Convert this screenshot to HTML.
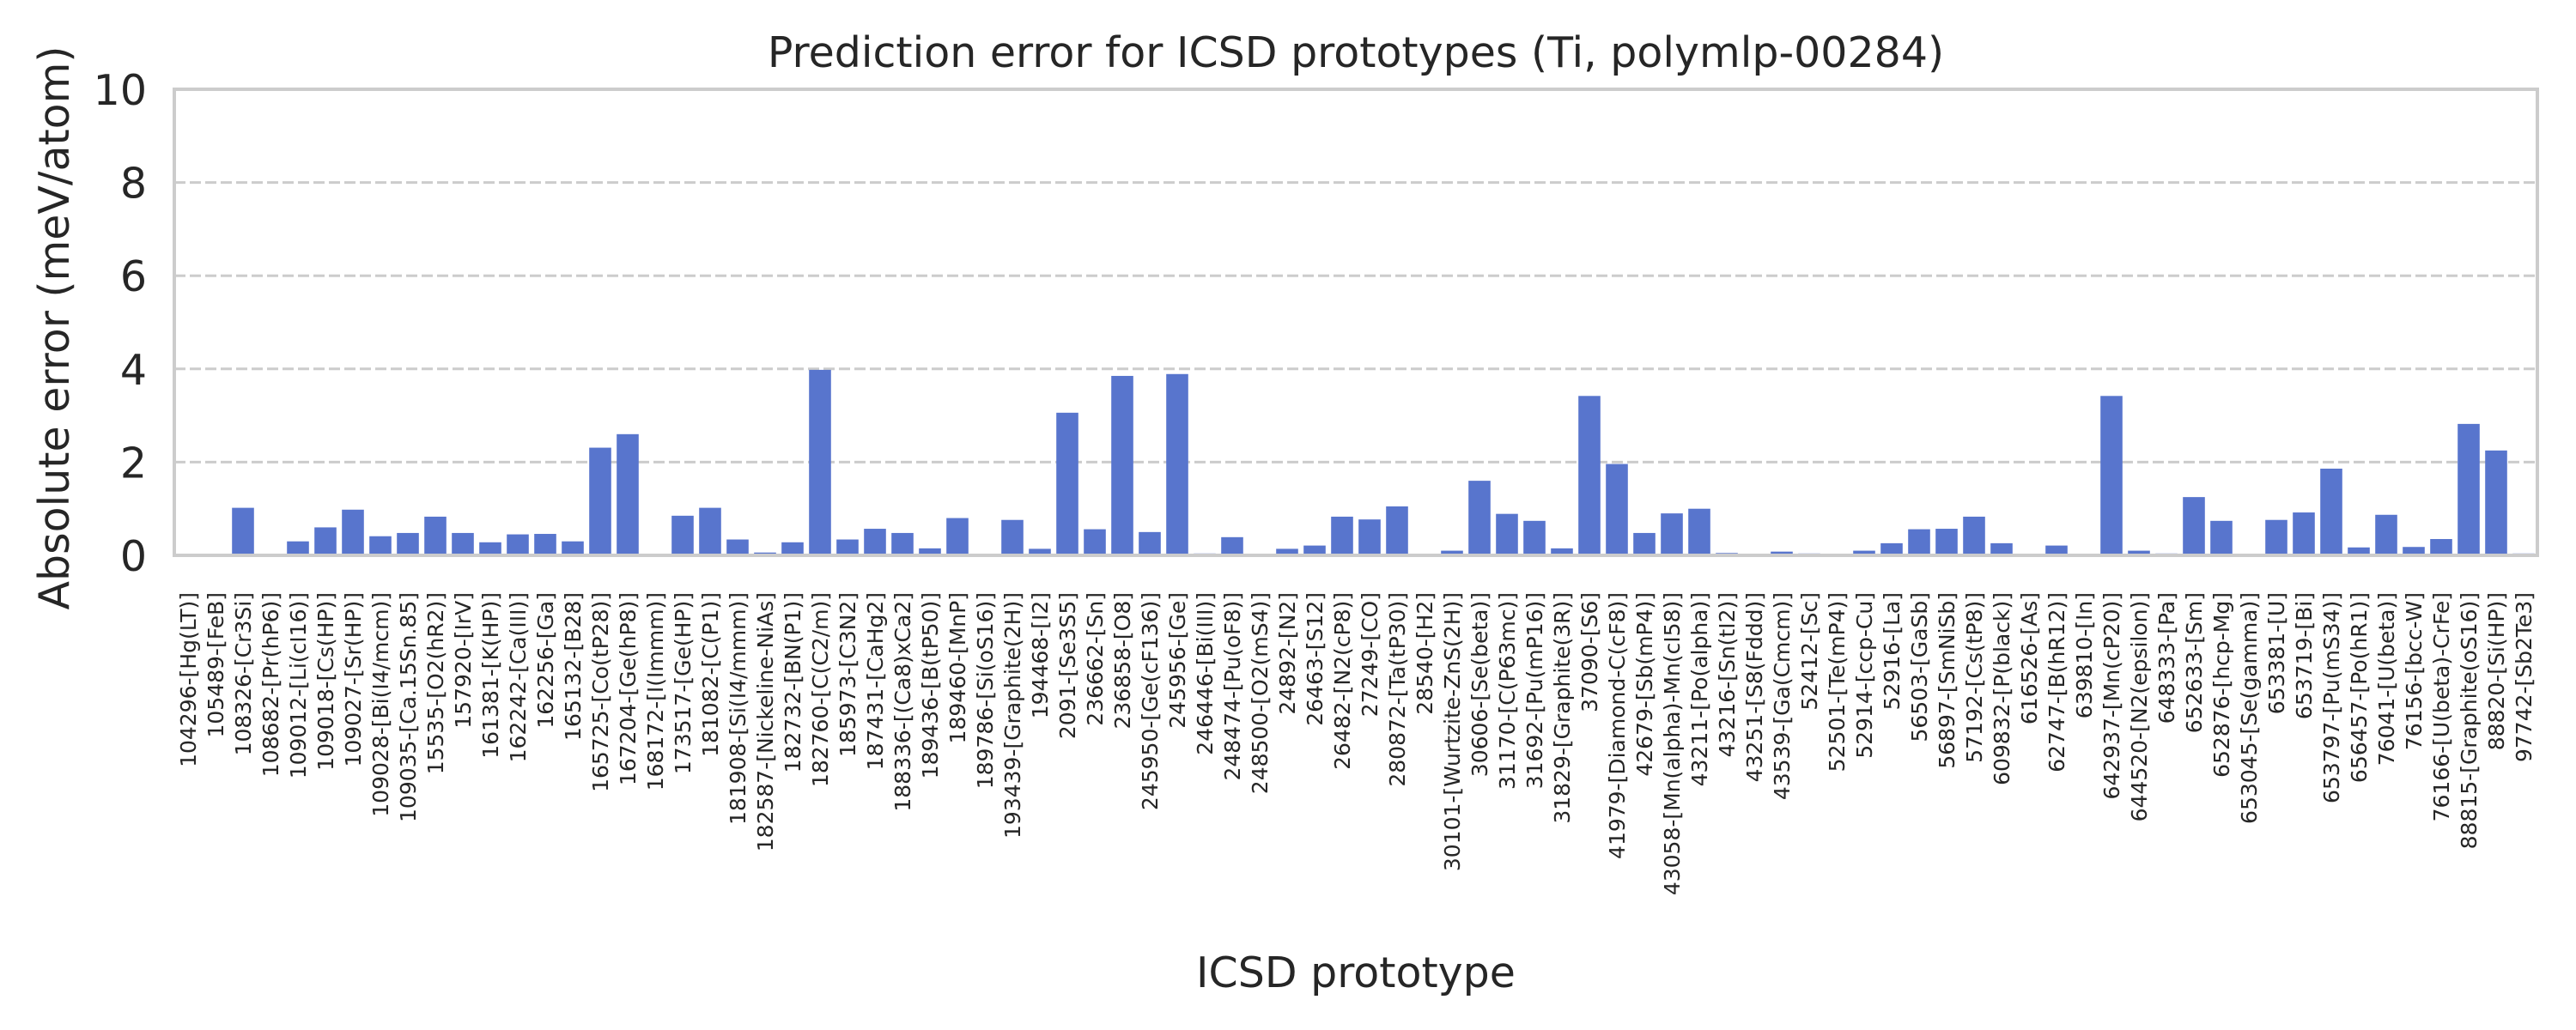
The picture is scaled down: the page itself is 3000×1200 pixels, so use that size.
<!DOCTYPE html>
<html><head><meta charset="utf-8"><style>
html,body{margin:0;padding:0;background:#fff}
svg{display:block;font-family:"DejaVu Sans","Liberation Sans",sans-serif}
</style></head><body>
<svg id="chart" width="3000" height="1200" viewBox="0 0 3000 1200" xmlns="http://www.w3.org/2000/svg">
<rect width="3000" height="1200" fill="#fff"/>
<text x="1579" y="78" font-size="49" text-anchor="middle" fill="#262626">Prediction error for ICSD prototypes (Ti, polymlp-00284)</text>
<g id="grid"></g>
<g id="bars"></g>
<rect x="203" y="104" width="2752" height="543" fill="none" stroke="#cccccc" stroke-width="4"/>
<g id="yticks"></g>
<g id="xticks"></g>
<text transform="translate(80,382) rotate(-90)" font-size="49" text-anchor="middle" fill="#262626">Absolute error (meV/atom)</text>
<text x="1579" y="1150" font-size="49" text-anchor="middle" fill="#262626">ICSD prototype</text>
</svg>
<script>
const categories = ["104296-[Hg(LT)]","105489-[FeB]","108326-[Cr3Si]","108682-[Pr(hP6)]","109012-[Li(cI16)]","109018-[Cs(HP)]","109027-[Sr(HP)]","109028-[Bi(I4/mcm)]","109035-[Ca.15Sn.85]","15535-[O2(hR2)]","157920-[IrV]","161381-[K(HP)]","162242-[Ca(III)]","162256-[Ga]","165132-[B28]","165725-[Co(tP28)]","167204-[Ge(hP8)]","168172-[I(Immm)]","173517-[Ge(HP)]","181082-[C(P1)]","181908-[Si(I4/mmm)]","182587-[Nickeline-NiAs]","182732-[BN(P1)]","182760-[C(C2/m)]","185973-[C3N2]","187431-[CaHg2]","188336-[(Ca8)xCa2]","189436-[B(tP50)]","189460-[MnP]","189786-[Si(oS16)]","193439-[Graphite(2H)]","194468-[I2]","2091-[Se3S5]","236662-[Sn]","236858-[O8]","245950-[Ge(cF136)]","245956-[Ge]","246446-[Bi(III)]","248474-[Pu(oF8)]","248500-[O2(mS4)]","24892-[N2]","26463-[S12]","26482-[N2(cP8)]","27249-[CO]","280872-[Ta(tP30)]","28540-[H2]","30101-[Wurtzite-ZnS(2H)]","30606-[Se(beta)]","31170-[C(P63mc)]","31692-[Pu(mP16)]","31829-[Graphite(3R)]","37090-[S6]","41979-[Diamond-C(cF8)]","42679-[Sb(mP4)]","43058-[Mn(alpha)-Mn(cI58)]","43211-[Po(alpha)]","43216-[Sn(tI2)]","43251-[S8(Fddd)]","43539-[Ga(Cmcm)]","52412-[Sc]","52501-[Te(mP4)]","52914-[ccp-Cu]","52916-[La]","56503-[GaSb]","56897-[SmNiSb]","57192-[Cs(tP8)]","609832-[P(black)]","616526-[As]","62747-[B(hR12)]","639810-[In]","642937-[Mn(cP20)]","644520-[N2(epsilon)]","648333-[Pa]","652633-[Sm]","652876-[hcp-Mg]","653045-[Se(gamma)]","653381-[U]","653719-[Bi]","653797-[Pu(mS34)]","656457-[Po(hR1)]","76041-[U(beta)]","76156-[bcc-W]","76166-[U(beta)-CrFe]","88815-[Graphite(oS16)]","88820-[Si(HP)]","97742-[Sb2Te3]"];
const errors = [0,0.03,1.02,0,0.30,0.60,0.98,0.41,0.48,0.83,0.48,0.28,0.45,0.46,0.30,2.31,2.60,0,0.85,1.02,0.34,0.06,0.28,3.98,0.34,0.57,0.48,0.15,0.80,0,0.76,0.14,3.06,0.56,3.85,0.50,3.89,0.04,0.39,0,0.14,0.21,0.83,0.77,1.05,0,0.10,1.60,0.89,0.74,0.15,3.42,1.96,0.48,0.90,1.0,0.05,0,0.08,0.04,0,0.10,0.26,0.56,0.57,0.83,0.26,0.02,0.21,0,3.42,0.10,0.04,1.25,0.74,0.02,0.76,0.92,1.86,0.17,0.87,0.18,0.35,2.82,2.25,0.04];
const yTicks = [0,2,4,6,8,10];
const yTickLabels = ["0","2","4","6","8","10"];

const NS = "http://www.w3.org/2000/svg";
const L = 203, R = 2955, T = 104, B = 647, yMax = 10;
const slot = (R - L) / categories.length;
function xCenter(i){ return L + slot * (i + 0.5); }
function yPos(v){ return B - (v / yMax) * (B - T); }
function mk(tag, attrs){ const e = document.createElementNS(NS, tag); for (const k in attrs) e.setAttribute(k, attrs[k]); return e; }

const grid = document.getElementById('grid');
const yt = document.getElementById('yticks');
yTicks.forEach((v, i) => {
  if (v > 0 && v < yMax) {
    const ln = mk('line', {x1: L, x2: R, y1: yPos(v), y2: yPos(v), stroke: '#cccccc', 'stroke-width': 3, 'stroke-dasharray': '13 5'});
    
    
    grid.appendChild(ln);
  }
  const t = mk('text', {x: L - 32, y: yPos(v) + 18, 'font-size': 49, 'text-anchor': 'end', fill: '#262626'});
  t.textContent = yTickLabels[i];
  
  
  yt.appendChild(t);
});

const bars = document.getElementById('bars');
const xt = document.getElementById('xticks');
const bw = slot * 0.8;
categories.forEach((c, i) => {
  const v = errors[i];
  const r = mk('rect', {x: xCenter(i) - bw / 2, y: yPos(v), width: bw, height: B - yPos(v), fill: '#5875cd'});
  
  
  bars.appendChild(r);
  const cx = xCenter(i) + 9, cy = 690;
  const t = mk('text', {x: cx, y: cy, transform: 'rotate(-90 ' + cx + ' ' + cy + ')', 'font-size': 25, 'text-anchor': 'end', fill: '#262626'});
  t.textContent = c;
  
  
  xt.appendChild(t);
});
</script>
</body></html>
